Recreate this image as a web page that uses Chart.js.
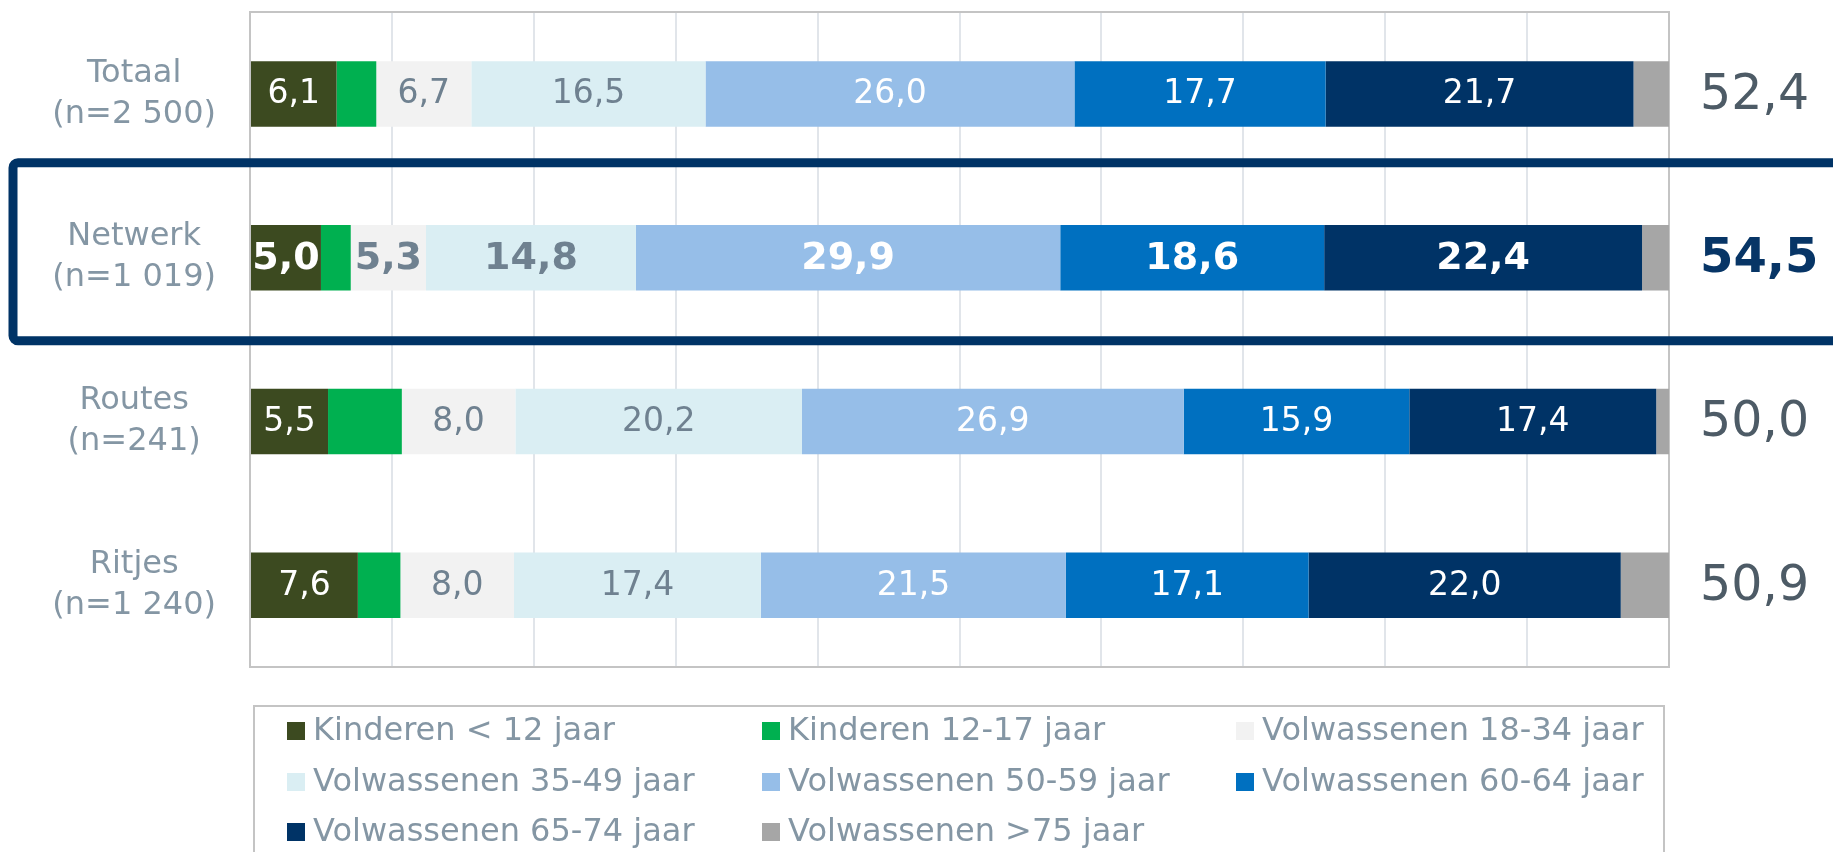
<!DOCTYPE html>
<html><head><meta charset="utf-8">
<script src="https://cdn.jsdelivr.net/npm/chart.js@4/dist/chart.umd.min.js"></script>
<style>html,body{margin:0;padding:0;background:#fff;overflow:hidden}canvas{display:block}</style>
</head><body>
<canvas id="c" width="1833" height="852"></canvas>
<script>
// ---- data ----
const categories = [['Totaal','(n=2 500)'], ['Netwerk','(n=1 019)'], ['Routes','(n=241)'], ['Ritjes','(n=1 240)']];
const seriesNames = ['Kinderen < 12 jaar','Kinderen 12-17 jaar','Volwassenen 18-34 jaar','Volwassenen 35-49 jaar','Volwassenen 50-59 jaar','Volwassenen 60-64 jaar','Volwassenen 65-74 jaar','Volwassenen >75 jaar'];
const kinderenTot12   = [6.1, 5.0, 5.5, 7.6];
const kinderen12_17   = [2.8, 2.1, 5.2, 3.0];
const volw18_34       = [6.7, 5.3, 8.0, 8.0];
const volw35_49       = [16.5, 14.8, 20.2, 17.4];
const volw50_59       = [26.0, 29.9, 26.9, 21.5];
const volw60_64       = [17.7, 18.6, 15.9, 17.1];
const volw65_74       = [21.7, 22.4, 17.4, 22.0];
const volw75plus      = [2.5, 1.9, 0.9, 3.4];
const averageAge      = [52.4, 54.5, 50.0, 50.9];
const highlightIndex  = 1;
const xTicks = [0,10,20,30,40,50,60,70,80,90,100];

// ---- styles ----
const FONT = "'DejaVu Sans', Verdana, sans-serif";
const colors = ['#3C4A20','#00B050','#F2F2F2','#DAEEF3','#96BEE8','#0070C0','#003366','#A6A6A6'];
const labelColors = ['#FFFFFF', null, '#6F8190', '#6F8190', '#FFFFFF', '#FFFFFF', '#FFFFFF', null];
const seriesValues = [kinderenTot12, kinderen12_17, volw18_34, volw35_49, volw50_59, volw60_64, volw65_74, volw75plus];
const fmt = v => v.toFixed(1).replace('.', ',');

const datasets = seriesNames.map((name, i) => ({
  label: name,
  data: seriesValues[i],
  backgroundColor: colors[i],
  borderWidth: 0,
  barPercentage: 0.4,
  categoryPercentage: 1.0
}));

const frameAndLabels = {
  id: 'frameAndLabels',
  beforeDatasetsDraw(chart) {
    const {ctx, chartArea: a} = chart;
    ctx.save();
    ctx.strokeStyle = '#C4C4C4';
    ctx.lineWidth = 2;
    ctx.strokeRect(a.left, a.top, a.right - a.left, a.bottom - a.top);
    ctx.restore();
  },
  afterDatasetsDraw(chart) {
    const {ctx} = chart;
    ctx.save();
    ctx.textAlign = 'center';
    ctx.textBaseline = 'middle';
    chart.data.datasets.forEach((ds, di) => {
      if (!labelColors[di]) return;
      const meta = chart.getDatasetMeta(di);
      meta.data.forEach((el, i) => {
        const bold = i === highlightIndex;
        ctx.font = (bold ? 'bold 38px ' : '33px ') + FONT;
        ctx.fillStyle = labelColors[di];
        ctx.fillText(fmt(ds.data[i]), (el.x + el.base) / 2, el.y + 1);
      });
    });
    ctx.restore();
  },
  afterDraw(chart) {
    const {ctx, chartArea: a} = chart;
    const ys = chart.scales.y;
    ctx.save();
    // averages on the right
    ctx.textAlign = 'left';
    ctx.textBaseline = 'middle';
    averageAge.forEach((v, i) => {
      const y = ys.getPixelForValue(i);
      if (i === highlightIndex) { ctx.font = 'bold 48px ' + FONT; ctx.fillStyle = '#073566'; }
      else { ctx.font = '49px ' + FONT; ctx.fillStyle = '#4D5B66'; }
      ctx.fillText(fmt(v), a.right + 31, y + 2);
    });
    // highlight box
    const step = ys.getPixelForValue(1) - ys.getPixelForValue(0);
    const cy = ys.getPixelForValue(highlightIndex);
    const top = cy - step * 0.58, bot = cy + step * 0.508;
    const left = 13, right = chart.width + 20, r = 5;
    ctx.strokeStyle = '#003366';
    ctx.lineWidth = 9;
    ctx.beginPath();
    ctx.moveTo(right, top);
    ctx.lineTo(left + r, top);
    ctx.arcTo(left, top, left, top + r, r);
    ctx.lineTo(left, bot - r);
    ctx.arcTo(left, bot, left + r, bot, r);
    ctx.lineTo(right, bot);
    ctx.stroke();
    // legend
    const lx = 254, ly = 706;
    ctx.strokeStyle = '#C4C4C4';
    ctx.lineWidth = 2;
    ctx.strokeRect(lx, ly, 1664 - lx, 200);
    const colX = [287, 762, 1236];
    const rowY = [731, 782, 832];
    ctx.font = '32px ' + FONT;
    ctx.textAlign = 'left';
    ctx.textBaseline = 'middle';
    chart.data.datasets.forEach((ds, i) => {
      const x = colX[i % 3], y = rowY[Math.floor(i / 3)];
      ctx.fillStyle = ds.backgroundColor;
      ctx.fillRect(x, y - 9, 18, 18);
      ctx.fillStyle = '#8496A4';
      ctx.fillText(ds.label, x + 26, y + 1);
    });
    ctx.restore();
  }
};

new Chart(document.getElementById('c'), {
  type: 'bar',
  data: { labels: categories, datasets },
  options: {
    indexAxis: 'y',
    responsive: false,
    animation: false,
    devicePixelRatio: 1,
    layout: { padding: { top: 12, right: 164, bottom: 185, left: 0 } },
    plugins: { legend: { display: false }, tooltip: { enabled: false } },
    scales: {
      x: {
        stacked: true, min: xTicks[0], max: xTicks[xTicks.length - 1],
        afterBuildTicks: s => { s.ticks = xTicks.map(v => ({value: v})); },
        ticks: { display: false },
        grid: { color: '#E1E5EA', lineWidth: 2, drawTicks: false },
        border: { display: false },
        afterFit: s => { s.height = 0; s.paddingLeft = 0; s.paddingRight = 0; }
      },
      y: {
        stacked: true,
        ticks: { font: { family: FONT, size: 32, lineHeight: 1.28 }, color: '#8496A4', padding: 34, crossAlign: 'center' },
        grid: { display: false, drawTicks: false },
        border: { display: false },
        afterFit: s => { s.width = 250; s.paddingTop = 0; s.paddingBottom = 0; }
      }
    }
  },
  plugins: [frameAndLabels]
});
</script>
</body></html>
